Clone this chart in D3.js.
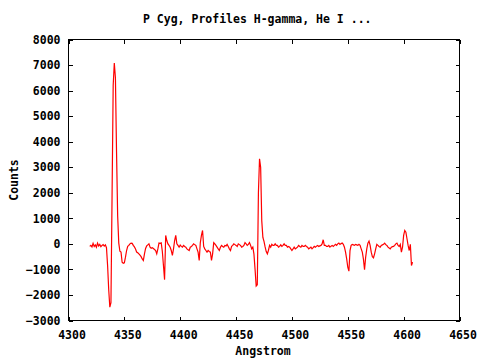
<!DOCTYPE html>
<html>
<head>
<meta charset="utf-8">
<script src="https://cdn.jsdelivr.net/npm/d3@7"></script>
<style>
  body { margin: 0; background: #fff; }
  svg text { font-family: "DejaVu Sans Mono", "Liberation Mono", monospace; font-weight: bold; font-size: 11.5px; fill: #000; }
</style>
</head>
<body>
<svg id="chart" width="480" height="360"></svg>
<script>
// spectrum sampled every 1 Angstrom, starting at 4319
var lambdaStart = 4319;
var counts = [
  -100, -60, -120, 20, -100, -40, -130, 30, -80, -20,        // 4319
  -110, -60, -30, -90, -40, -150, -850, -1800, -2480, -2300, // 4329
  1900, 6200, 7080, 6500, 3600, 1100, 30, -290, -320, -720,  // 4339
  -760, -740, -520, -260, -100, -60, 0, 30, 20, -60,         // 4349
  -120, -200, -320, -350, -390, -440, -500, -590, -650, -390, // 4359
  -180, -80, -40, 0, -130, -170, -150, -180, -220, -260,     // 4369
  -390, -200, 30, 20, 40, -300, -850, -1400, 330, 130,       // 4379
  0, -60, -130, -260, -455, -195, 130, 330, 0, -60,          // 4389
  -130, -50, -100, -130, -60, -100, -130, -195, -230, -260,  // 4399
  -130, -100, -60, 0, -30, -60, -195, -325, -650, 50,        // 4409
  330, 525, -100, -195, -260, -325, -260, -300, -325, -650,  // 4419
  -390, 50, 0, -60, -130, -200, -260, -130, -60, -100,       // 4429
  -130, -60, -80, -20, -100, -195, -260, -100, -60, 0,       // 4439
  -30, -60, -100, 0, -30, -60, -130, -100, -60, 50,          // 4449
  0, -60, -20, 50, -60, -195, -130, -400, -1000, -1650,      // 4459
  -1600, 2000, 3330, 3000, 900, 250, 100, -120, -300, -390,  // 4469
  -250, -60, -130, -20, -60, -60, 0, -60, -60, -130,         // 4479
  -100, -40, -100, -60, 0, -60, -60, -130, -100, -130,       // 4489
  -195, -260, -200, -130, -195, -160, -130, -60, -100, -130, // 4499
  -60, -100, -100, -60, -100, -130, -195, -160, -130, -195,  // 4509
  -150, -100, -130, -90, -60, -100, -80, -60, 0, 160,        // 4519
  -60, -60, -100, -100, -60, -130, -90, -60, -100, -60,      // 4529
  -20, -60, 0, 30, -20, 10, 30, -20, -130, -325,             // 4539
  -585, -910, -1070, -260, -60, -20, -40, -60, -20, -40,     // 4549
  -60, -20, -60, -195, -325, -600, -1015, -520, -195, 30,    // 4559
  110, -60, -325, -500, -545, -390, -195, -20, -60, -100,    // 4569
  -130, -60, -40, -20, 30, -30, -60, -130, -160, -195,       // 4579
  -130, -110, -100, -60, 0, 30, -60, -100, -20, -325,        // 4589
  -130, 330, 525, 460, 200, -60, -260, -20, -845, -715       // 4599
];

var xTicks = [4300, 4350, 4400, 4450, 4500, 4550, 4600, 4650];
var yTicks = [-3000, -2000, -1000, 0, 1000, 2000, 3000, 4000, 5000, 6000, 7000, 8000];

var title = "P Cyg, Profiles H-gamma, He I ...";
var xTitle = "Angstrom";
var yTitle = "Counts";

var data = counts.map(function(c, i) { return { x: lambdaStart + i, y: c }; });

var svg = d3.select("#chart");
var plotLeft = 68.5, plotRight = 459.5, plotTop = 39.5, plotBottom = 320.5;

var x = d3.scaleLinear().domain([4300, 4650]).range([plotLeft, plotRight]);
var y = d3.scaleLinear().domain([-3000, 8000]).range([plotBottom, plotTop]);

// axes, ticks pointing inward like gnuplot
svg.append("g")
    .attr("transform", "translate(0," + plotBottom + ")")
    .call(d3.axisBottom(x).tickValues(xTicks).tickSizeInner(-4).tickSizeOuter(0).tickPadding(10).tickFormat(d3.format("d")))
    .call(function(g) { g.select(".domain").remove(); })
    .selectAll("text").attr("dx", 3);

svg.append("g")
    .attr("transform", "translate(0," + plotTop + ")")
    .call(d3.axisTop(x).tickValues(xTicks).tickSizeInner(-4).tickSizeOuter(0).tickFormat(""))
    .call(function(g) { g.select(".domain").remove(); });

svg.append("g")
    .attr("transform", "translate(" + plotLeft + ",0)")
    .call(d3.axisLeft(y).tickValues(yTicks).tickSizeInner(-4).tickSizeOuter(0).tickPadding(8).tickFormat(d3.format("d")))
    .call(function(g) { g.select(".domain").remove(); });

svg.append("g")
    .attr("transform", "translate(" + plotRight + ",0)")
    .call(d3.axisRight(y).tickValues(yTicks).tickSizeInner(-4).tickSizeOuter(0).tickFormat(""))
    .call(function(g) { g.select(".domain").remove(); });

svg.selectAll(".tick line").attr("stroke", "#000").attr("shape-rendering", "crispEdges");
svg.selectAll("g").attr("font-family", null).attr("font-size", null);

var line = d3.line()
    .x(function(d) { return x(d.x); })
    .y(function(d) { return y(d.y); });

svg.append("path")
    .datum(data)
    .attr("fill", "none")
    .attr("stroke", "#ff0000")
    .attr("stroke-width", 1.2)
    .attr("d", line);

svg.append("rect")
    .attr("x", plotLeft).attr("y", plotTop)
    .attr("width", plotRight - plotLeft).attr("height", plotBottom - plotTop)
    .attr("fill", "none").attr("stroke", "#000").attr("stroke-width", 1)
    .attr("shape-rendering", "crispEdges");

svg.append("text").attr("x", 143).attr("y", 23).text(title);
svg.append("text").attr("x", 263).attr("y", 355).attr("text-anchor", "middle").text(xTitle);
svg.append("text")
    .attr("transform", "translate(18,180) rotate(-90)")
    .attr("text-anchor", "middle")
    .text(yTitle);
</script>
</body>
</html>
